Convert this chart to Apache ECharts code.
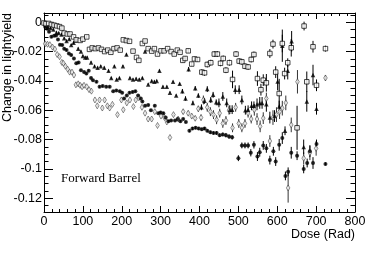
<!DOCTYPE html>
<html><head><meta charset="utf-8">
<script src="https://cdn.jsdelivr.net/npm/echarts@6/dist/echarts.min.js"></script>
<style>html,body{margin:0;padding:0;background:#fff}#c{width:374px;height:253px}</style>
</head><body><div id="c"></div>
<script>
// [dose, change, error]
const squares = [
[0,-0.0005,0.0008],[5,-0.001,0.0008],[12,-0.0008,0.0008],[19,-0.0015,0.0008],[26,-0.002,0.0008],[33,-0.0025,0.0008],[40,-0.003,0.0008],[46,-0.004,0.0008],[52,-0.0074,0.0008],[60,-0.008,0.0008],
[67,-0.008,0.0008],[76,-0.010,0.0008],[83,-0.012,0.0008],[93,-0.0124,0.0008],[100,-0.0115,0.0008],[110,-0.010,0.0008],[117,-0.0185,0.0008],[124,-0.0175,0.0008],[132,-0.018,0.0008],[140,-0.0175,0.0008],
[148,-0.0185,0.0008],[156,-0.020,0.0008],[164,-0.019,0.0008],[172,-0.0205,0.0008],[180,-0.018,0.0008],[188,-0.0175,0.0008],[196,-0.019,0.0008],[204,-0.012,0.0008],[212,-0.0125,0.0008],[220,-0.013,0.0008],
[229,-0.0197,0.0008],[238,-0.024,0.0008],[244,-0.026,0.0008],[253,-0.0145,0.0008],[260,-0.0128,0.0008],[268,-0.018,0.0008],[277,-0.0197,0.0008],[284,-0.018,0.0008],[292,-0.0217,0.0008],[301,-0.0195,0.0008],
[309,-0.0195,0.0008],[318,-0.018,0.0008],[327,-0.020,0.0008],[335,-0.0217,0.0008],[343,-0.019,0.0008],[350,-0.0205,0.0008],[357,-0.026,0.0015],[363,-0.0247,0.0015],[371,-0.0195,0.0015],[380,-0.0285,0.0015],
[387,-0.025,0.0015],[395,-0.0254,0.0015],[406,-0.034,0.002],[413,-0.0345,0.002],[420,-0.0288,0.002],[429,-0.0276,0.002],[438,-0.0217,0.002],[446,-0.0217,0.002],[454,-0.028,0.002],[461,-0.0247,0.002],
[468,-0.0327,0.002],[477,-0.0276,0.002],[485,-0.039,0.006],[494,-0.0217,0.002],[502,-0.0265,0.002],[509,-0.027,0.002],[517,-0.030,0.002],[525,-0.0305,0.002],[533,-0.0254,0.002],[540,-0.022,0.002],
[549,-0.0384,0.005],[558,-0.046,0.004],[564,-0.0395,0.004],[572,-0.0413,0.006],[581,-0.0213,0.003],[589,-0.0149,0.003],[596,-0.034,0.004],[605,-0.0486,0.01],[613,-0.0145,0.006],[619,-0.035,0.004],
[627,-0.0276,0.003],[636,-0.0174,0.006],[651,-0.072,0.015],[669,-0.0026,0.003],[676,-0.0406,0.007],[692,-0.0167,0.004],[701,-0.043,0.004],[724,-0.018,0.002]
];
const triangles = [
[3,-0.001,0.0008],[10,-0.003,0.0008],[17,-0.004,0.0008],[24,-0.005,0.0008],[32,-0.007,0.0008],[38,-0.0074,0.0008],[45,-0.0083,0.0008],[52,-0.011,0.0008],[58,-0.0128,0.0008],[65,-0.0115,0.0008],
[70,-0.0156,0.0008],[76,-0.014,0.0008],[81,-0.0124,0.0008],[88,-0.018,0.0008],[95,-0.020,0.0008],[100,-0.023,0.0008],[106,-0.024,0.0008],[111,-0.024,0.0008],[121,-0.0274,0.0008],[130,-0.030,0.0008],
[138,-0.031,0.0008],[146,-0.030,0.0008],[155,-0.031,0.0008],[166,-0.033,0.0008],[173,-0.038,0.0008],[181,-0.030,0.0008],[187,-0.039,0.0008],[194,-0.038,0.0008],[203,-0.030,0.0008],[212,-0.022,0.0008],
[221,-0.038,0.0008],[229,-0.039,0.0008],[237,-0.0385,0.0008],[245,-0.039,0.0008],[253,-0.038,0.0008],[260,-0.020,0.0008],[268,-0.0424,0.0008],[277,-0.040,0.0008],[284,-0.0405,0.0008],[290,-0.040,0.0008],
[297,-0.033,0.0008],[306,-0.044,0.0008],[316,-0.044,0.0008],[324,-0.048,0.0008],[332,-0.0406,0.0008],[340,-0.050,0.0008],[349,-0.042,0.0008],[356,-0.047,0.0015],[364,-0.052,0.0015],[372,-0.032,0.0015],
[383,-0.055,0.0015],[389,-0.045,0.0015],[397,-0.050,0.0015],[405,-0.058,0.002],[413,-0.0536,0.002],[420,-0.0456,0.002],[429,-0.053,0.002],[435,-0.0495,0.002],[443,-0.0546,0.002],[450,-0.055,0.003],
[460,-0.0506,0.003],[470,-0.055,0.003],[478,-0.0596,0.003],[484,-0.0596,0.003],[492,-0.046,0.003],[502,-0.046,0.003],[509,-0.053,0.003],[518,-0.060,0.003],[525,-0.0597,0.003],[534,-0.057,0.003],
[540,-0.057,0.003],[548,-0.056,0.004],[555,-0.055,0.004],[561,-0.055,0.004],[572,-0.056,0.005],[581,-0.065,0.004],[593,-0.064,0.004],[601,-0.0404,0.006],[605,-0.0575,0.004],[613,-0.016,0.011],
[620,-0.074,0.003],[627,-0.033,0.006],[637,-0.013,0.007],[668,-0.085,0.005],[676,-0.054,0.007],[692,-0.036,0.007],[701,-0.059,0.004]
];
const circles = [
[3,-0.003,0.0008],[8,-0.0045,0.0008],[13,-0.0065,0.0008],[19,-0.0099,0.0008],[26,-0.0092,0.0008],[31,-0.009,0.0008],[36,-0.0117,0.0008],[41,-0.0154,0.0008],[47,-0.0156,0.0008],[52,-0.018,0.0008],
[58,-0.019,0.0008],[64,-0.0213,0.0008],[70,-0.0224,0.0008],[77,-0.0247,0.0008],[83,-0.028,0.0008],[89,-0.0275,0.0008],[95,-0.0327,0.0008],[103,-0.034,0.0008],[109,-0.035,0.0008],[115,-0.033,0.0008],
[121,-0.038,0.0008],[126,-0.0395,0.0008],[135,-0.0406,0.0008],[143,-0.044,0.0008],[151,-0.0435,0.0008],[160,-0.044,0.0008],[169,-0.044,0.0008],[178,-0.047,0.0008],[186,-0.0465,0.0008],[195,-0.047,0.0008],
[201,-0.048,0.0008],[206,-0.052,0.0008],[213,-0.050,0.0008],[220,-0.048,0.0008],[228,-0.0475,0.0008],[235,-0.047,0.0008],[242,-0.050,0.0008],[249,-0.052,0.0008],[253,-0.054,0.0008],[260,-0.057,0.0008],
[268,-0.0565,0.0008],[275,-0.060,0.0008],[285,-0.057,0.0008],[294,-0.062,0.0008],[300,-0.0615,0.0008],[307,-0.062,0.0008],[313,-0.065,0.0008],[320,-0.0675,0.0008],[327,-0.067,0.0008],[337,-0.067,0.0008],
[344,-0.066,0.0008],[351,-0.0675,0.0008],[358,-0.066,0.0008],[365,-0.068,0.0008],[374,-0.074,0.001],[382,-0.0725,0.001],[390,-0.072,0.001],[398,-0.0725,0.001],[406,-0.073,0.001],[413,-0.0725,0.001],
[420,-0.074,0.001],[428,-0.075,0.001],[436,-0.0755,0.001],[444,-0.0755,0.0012],[452,-0.077,0.0012],[460,-0.0765,0.0012],[468,-0.077,0.0015],[476,-0.078,0.0015],[484,-0.0785,0.0015],[500,-0.0927,0.002],
[509,-0.084,0.002],[517,-0.084,0.002],[525,-0.084,0.002],[532,-0.089,0.0025],[540,-0.0836,0.0025],[549,-0.0916,0.003],[555,-0.0886,0.003],[564,-0.084,0.003],[572,-0.086,0.003],[581,-0.094,0.003],
[590,-0.088,0.003],[596,-0.095,0.003],[605,-0.0836,0.004],[613,-0.079,0.004],[621,-0.1048,0.003],[628,-0.102,0.003],[636,-0.089,0.004],[651,-0.091,0.003],[668,-0.100,0.003],[677,-0.096,0.003],
[684,-0.088,0.004],[692,-0.096,0.004],[701,-0.083,0.003],[724,-0.0966,0.001]
];
const diamonds = [
[3,-0.0147,0.0008],[9,-0.015,0.0008],[15,-0.0153,0.0008],[22,-0.017,0.0008],[28,-0.0183,0.0008],[34,-0.022,0.0008],[40,-0.0235,0.0008],[46,-0.0274,0.0008],[50,-0.028,0.0008],[55,-0.030,0.0008],
[61,-0.032,0.0008],[66,-0.034,0.0008],[72,-0.034,0.0008],[77,-0.036,0.0008],[82,-0.0427,0.0008],[88,-0.042,0.0008],[93,-0.043,0.0008],[98,-0.044,0.0008],[103,-0.043,0.0008],[110,-0.044,0.0008],
[116,-0.046,0.0008],[122,-0.047,0.0008],[131,-0.053,0.0008],[137,-0.057,0.0008],[143,-0.053,0.0008],[150,-0.0585,0.0008],[156,-0.053,0.0008],[163,-0.057,0.0008],[169,-0.0585,0.0008],[176,-0.056,0.0008],
[189,-0.063,0.0008],[199,-0.053,0.0008],[204,-0.0597,0.0008],[213,-0.055,0.0008],[221,-0.053,0.0008],[230,-0.0575,0.0008],[236,-0.053,0.0008],[244,-0.0515,0.0008],[252,-0.058,0.0008],[260,-0.062,0.0008],
[268,-0.066,0.0008],[277,-0.066,0.0008],[285,-0.061,0.0008],[292,-0.0704,0.0008],[301,-0.064,0.0008],[310,-0.065,0.0008],[316,-0.068,0.0008],[324,-0.0786,0.0008],[333,-0.063,0.0008],[345,-0.066,0.0008],
[358,-0.061,0.0015],[371,-0.062,0.0015],[380,-0.064,0.0015],[389,-0.0655,0.0015],[397,-0.059,0.002],[404,-0.065,0.002],[410,-0.053,0.003],[420,-0.058,0.003],[428,-0.061,0.003],[436,-0.063,0.003],
[444,-0.0665,0.003],[452,-0.062,0.003],[460,-0.069,0.003],[468,-0.067,0.003],[476,-0.060,0.003],[485,-0.072,0.003],[493,-0.058,0.003],[501,-0.069,0.003],[509,-0.072,0.003],[517,-0.069,0.003],
[525,-0.062,0.003],[533,-0.066,0.003],[541,-0.0597,0.004],[548,-0.066,0.004],[556,-0.071,0.004],[564,-0.0654,0.004],[572,-0.052,0.004],[581,-0.081,0.004],[589,-0.065,0.005],[598,-0.063,0.005],
[606,-0.061,0.005],[613,-0.0586,0.005],[622,-0.055,0.005],[628,-0.113,0.01],[636,-0.070,0.005],[652,-0.0406,0.008],[668,-0.0927,0.004],[684,-0.089,0.005],[700,-0.086,0.005],[724,-0.038,0.002]
];
const xTicks = [0,100,200,300,400,500,600,700,800];
const yTicks = [-0.12,-0.1,-0.08,-0.06,-0.04,-0.02,0];
const xTitle = 'Dose (Rad)';
const yTitle = 'Change in lightyield';
const label = 'Forward Barrel';

const X_MIN = 0, X_MAX = 800, Y_MIN = -0.1294, Y_MAX = 0.0063;
const yMinor = [];
for (let v = -0.125; v <= 0.005 + 1e-9; v += 0.005) yMinor.push(Math.round(v * 1000) / 1000);

const font = 'Liberation Sans, Arial, Helvetica, sans-serif';
const chart = echarts.init(document.getElementById('c'), null, {renderer: 'canvas'});

function xAx(pos, showLabel) {
  return {type:'value', position: pos, min: X_MIN, max: X_MAX, interval: 100, gridIndex:0,
    axisLine:{show:true, onZero:false, lineStyle:{color:'#000', width:1}},
    axisTick:{show:true, inside:true, length:6, lineStyle:{color:'#000', width:1}},
    minorTick:{show:true, splitNumber:5, length:3, lineStyle:{color:'#000', width:1}},
    splitLine:{show:false},
    axisLabel:{show:showLabel, color:'#000', fontFamily:font, fontSize:12.5, margin:3,
      customValues: xTicks}
  };
}
function yAx(pos, major, showLabel) {
  return {type:'value', position: pos, min: Y_MIN, max: Y_MAX, gridIndex:0,
    axisLine:{show:major, onZero:false, lineStyle:{color:'#000', width:1}},
    axisTick:{show:true, inside:true, length: major ? 9 : 4.5, customValues: major ? yTicks : yMinor,
      lineStyle:{color:'#000', width:1}},
    splitLine:{show:false},
    axisLabel:{show:showLabel, color:'#000', fontFamily:font, fontSize:12.5, margin:2,
      customValues: yTicks, formatter: v => String(v)}
  };
}

function errSeries(arr, color) {
  return {type:'custom', xAxisIndex:0, yAxisIndex:0, silent:true, z:1, clip:true,
    data: arr.map(p => [p[0], p[1] - p[2], p[1] + p[2]]),
    encode:{x:0, y:[1,2]},
    renderItem: (params, api) => {
      const a = api.coord([api.value(0), api.value(1)]);
      const b = api.coord([api.value(0), api.value(2)]);
      return {type:'line', shape:{x1:a[0], y1:a[1], x2:b[0], y2:b[1]},
        style:{stroke:color, lineWidth:1}};
    }};
}
function markSeries(arr, symbol, size, open, color, bw) {
  return {type:'scatter', xAxisIndex:0, yAxisIndex:0, z:3, silent:true,
    data: arr.map(p => [p[0], p[1]]), symbol: symbol, symbolSize: size,
    itemStyle: open ? {color:'#fff', borderColor:color, borderWidth:bw}
                    : {color:color, borderWidth:0}};
}

chart.setOption({
  animation:false,
  backgroundColor:'#fff',
  grid:{left:44, top:13, width:311, height:199, containLabel:false},
  xAxis:[xAx('bottom', true), xAx('top', false)],
  yAxis:[yAx('left', true, true), yAx('left', false, false), yAx('right', true, false), yAx('right', false, false)],
  series:[
    errSeries(diamonds, '#333'), errSeries(circles, '#000'), errSeries(triangles, '#000'), errSeries(squares, '#000'),
    markSeries(diamonds, 'diamond', [3.5,6], true, '#333', 0.7),
    markSeries(circles, 'circle', 4, false, '#000', 0),
    markSeries(triangles, 'triangle', 4.5, false, '#000', 0),
    markSeries(squares, 'rect', 4.5, true, '#000', 0.9)
  ],
  graphic:[
    {type:'text', right:19, top:228, style:{text:xTitle, fill:'#000', font:'12.5px ' + font, textAlign:'right'}},
    {type:'text', x:1.5, y:13, rotation:Math.PI/2, style:{text:yTitle, fill:'#000', font:'12.5px ' + font, textAlign:'right', textVerticalAlign:'top'}},
    {type:'text', left:61, top:172, style:{text:label, fill:'#000', font:'13px Liberation Serif, Times New Roman, serif'}}
  ]
});
</script></body></html>
